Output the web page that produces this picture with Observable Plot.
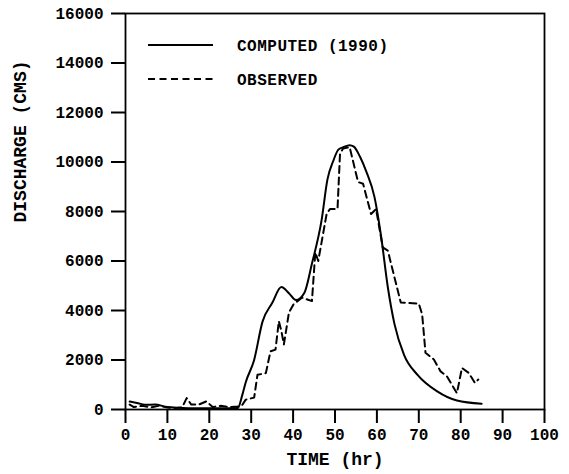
<!DOCTYPE html>
<html>
<head>
<meta charset="utf-8">
<script src="https://cdn.jsdelivr.net/npm/d3@7"></script>
<script src="https://cdn.jsdelivr.net/npm/@observablehq/plot@0.6"></script>
<style>
  html, body { margin: 0; padding: 0; background: #fff; }
  #chart { width: 569px; height: 474px; }
</style>
</head>
<body>
<div id="chart"></div>
<script>
// ---- data ----
const computedTime = [1, 3, 5, 7, 10, 13, 16, 20, 24, 26.8, 27.9, 28.7, 30.7, 32.7, 35, 37.2, 39, 40.7, 42.7, 44.5, 46.8, 48.2, 49.6, 50.8, 52, 53.5, 54.5, 56, 57.5, 59.4, 61, 62.6, 64.2, 66.5, 69.7, 74.4, 79.1, 85];
const computedQ    = [320, 250, 190, 200, 100, 70, 50, 50, 50, 60, 600, 1100, 2000, 3550, 4300, 4950, 4700, 4420, 4720, 5900, 7650, 9300, 10050, 10500, 10600, 10680, 10620, 10200, 9600, 8600, 7000, 4950, 3450, 2200, 1400, 730, 360, 230];

const observedTime = [1, 2, 4, 6, 8, 10, 12, 13.5, 14.6, 15.7, 17.5, 19.3, 20.8, 22.8, 24.8, 26.8, 27.9, 28.7, 30.7, 31.5, 33.5, 34.6, 35.8, 36.6, 37.2, 37.8, 39, 40.1, 42.1, 44.5, 45.3, 46.0, 48, 48.8, 50.6, 51.2, 51.9, 53.5, 55.5, 56.7, 58.6, 59.8, 61.4, 62.6, 65.7, 70, 70.8, 71.6, 73.6, 75.2, 76.7, 79.1, 80.3, 81.9, 83.4, 84.2];
const observedQ    = [200, 100, 150, 80, 150, 80, 60, 80, 460, 200, 200, 330, 100, 150, 100, 120, 190, 400, 480, 1400, 1470, 2350, 2420, 3570, 3170, 2630, 3910, 4250, 4520, 4380, 6350, 6000, 7900, 8100, 8100, 10340, 10540, 10600, 9190, 9120, 7900, 8100, 6550, 6420, 4320, 4280, 3850, 2290, 2020, 1540, 1340, 660, 1680, 1480, 1070, 1210];

const xTicks = [0, 10, 20, 30, 40, 50, 60, 70, 80, 90, 100];
const yTicks = [0, 2000, 4000, 6000, 8000, 10000, 12000, 14000, 16000];

const seriesNames = ["COMPUTED (1990)", "OBSERVED"];
const xTitle = "TIME (hr)";
const yTitle = "DISCHARGE (CMS)";

// ---- tables ----
const computed = computedTime.map((t, i) => ({t, q: computedQ[i]}));
const observed = observedTime.map((t, i) => ({t, q: observedQ[i]}));

const font = "'Liberation Mono', 'DejaVu Sans Mono', monospace";

const chart = Plot.plot({
  width: 569,
  height: 474,
  marginLeft: 125,
  marginRight: 25,
  marginTop: 13,
  marginBottom: 65,
  style: {fontFamily: font, fontWeight: "bold", fontSize: "16px", color: "#000", background: "#fff"},
  x: {domain: [0, 100]},
  y: {domain: [0, 16000]},
  marks: [
    Plot.frame({stroke: "#000", strokeWidth: 1.8}),
    Plot.axisX({ticks: xTicks, tickSize: 14, tickPadding: 5, strokeWidth: 2, label: null, tickFormat: d3.format("d"), fontSize: 16, letterSpacing: "0.5px"}),
    Plot.axisY({ticks: yTicks, tickSize: 14, tickPadding: 8, strokeWidth: 2, label: null, tickFormat: d3.format("d"), fontSize: 16, letterSpacing: "0.5px"}),
    Plot.text([xTitle], {frameAnchor: "bottom", dy: 50, lineAnchor: "middle", text: d => d, fontSize: 18, fontWeight: "bold", letterSpacing: "0.3px"}),
    Plot.text([yTitle], {frameAnchor: "left", dx: -105, dy: 11, rotate: -90, lineAnchor: "middle", text: d => d, fontSize: 18, fontWeight: "bold", letterSpacing: "0.6px"}),
    Plot.line(computed, {x: "t", y: "q", stroke: "#000", strokeWidth: 2, curve: "monotone-x"}),
    Plot.line(observed, {x: "t", y: "q", stroke: "#000", strokeWidth: 2, strokeDasharray: "7,4.5"})
  ]
});

// legend inside the plot frame
const svg = d3.select(chart);
const lg = svg.append("g").attr("font-family", font).attr("font-weight", "bold").attr("font-size", 16).attr("text-anchor", "start");
const legendRows = [
  {name: seriesNames[0], y: 45, dash: null},
  {name: seriesNames[1], y: 79, dash: "7,4.5"}
];
legendRows.forEach(r => {
  lg.append("line").attr("x1", 148).attr("x2", 213).attr("y1", r.y).attr("y2", r.y)
    .attr("stroke", "#000").attr("stroke-width", 2).attr("stroke-dasharray", r.dash);
  lg.append("text").attr("x", 237).attr("y", r.y).attr("dy", "0.35em").attr("text-anchor", "start").attr("letter-spacing", "0.5px").text(r.name);
});

document.getElementById("chart").appendChild(chart);
</script>
</body>
</html>
